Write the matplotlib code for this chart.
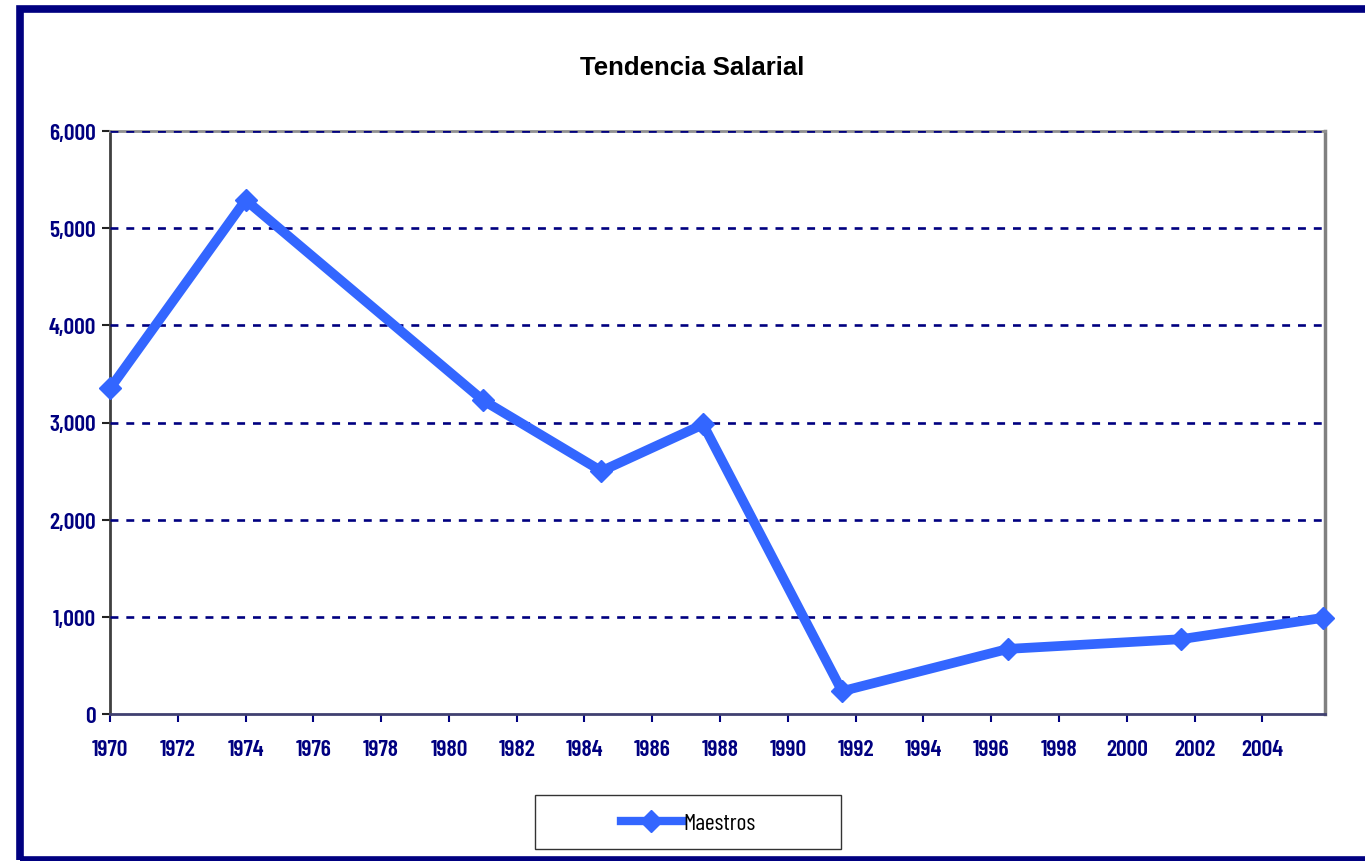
import matplotlib.pyplot as plt
from matplotlib.patches import Rectangle
from matplotlib.ticker import FuncFormatter

# datos
anios = [1970, 1974, 1981, 1984.5, 1987.5, 1991.6, 1996.5, 2001.6, 2005.8]
maestros = [3350, 5290, 3230, 2500, 2980, 235, 670, 770, 990]
ticks_x = list(range(1970, 2005, 2))
ticks_y = [0, 1000, 2000, 3000, 4000, 5000, 6000]

azul = '#3366FF'
marino = '#000080'
estrecha = ['Barlow Condensed', 'Archivo Narrow', 'DejaVu Sans']

fig = plt.figure(figsize=(13.65, 8.62), dpi=100)
ax = fig.add_axes([110 / 1365, 1 - 715 / 862, 1215 / 1365, 583 / 862])

# cuadricula punteada (encima del borde gris de arriba)
for v in ticks_y[1:]:
    ax.axhline(v, color=marino, lw=1.9, dashes=(3.0, 3.0), zorder=2.6)

ax.plot(anios, maestros, color=azul, lw=7, marker='D', markersize=11,
        solid_joinstyle='miter', zorder=3, clip_on=False, label='Maestros')

ax.set_xlim(1970, 2005.85)
ax.set_ylim(0, 6000)
ax.set_xticks(ticks_x)
ax.set_yticks(ticks_y)
ax.yaxis.set_major_formatter(FuncFormatter(lambda v, p: f'{v:,.0f}'))

for lab in ax.get_xticklabels() + ax.get_yticklabels():
    lab.set_family(estrecha)
    lab.set_fontweight('semibold')
    lab.set_fontsize(17)
    lab.set_color(marino)

ax.tick_params(axis='x', direction='out', length=6, width=1.5, color=marino, pad=12)
ax.tick_params(axis='y', direction='out', length=6, width=1.5, color='#222222', pad=4)

ax.spines['left'].set_color('#404040')
ax.spines['left'].set_linewidth(2)
ax.spines['bottom'].set_color('#404070')
ax.spines['bottom'].set_linewidth(2)
ax.spines['right'].set_color('#808080')
ax.spines['right'].set_linewidth(2.5)
ax.spines['top'].set_color('#909090')
ax.spines['top'].set_linewidth(2)

fig.text(692 / 1365, 1 - 68 / 862, 'Tendencia Salarial', ha='center', va='center',
         fontsize=18.5, fontweight='bold', family=['Liberation Sans', 'DejaVu Sans'])

# leyenda
fig.patches.append(Rectangle((535 / 1365, 1 - 850 / 862), 306 / 1365, 54 / 862,
                             transform=fig.transFigure, fill=False,
                             edgecolor='#333333', lw=1))
leg = fig.legend(loc='center', bbox_to_anchor=(688 / 1365, 1 - 824 / 862),
                 frameon=False, handlelength=2.6, handletextpad=0.05,
                 prop={'family': estrecha, 'size': 17})
leg.get_lines()[0].set_linewidth(6)
leg.get_texts()[0].set_color('black')

# borde exterior
fig.patches.append(Rectangle((19.5 / 1365, 1 - 861 / 862), 1.05, 1 - 9.5 / 862 - (1 - 861 / 862),
                             transform=fig.transFigure, fill=False,
                             edgecolor=marino, lw=5.5))

fig.savefig('out.png', dpi=100)
